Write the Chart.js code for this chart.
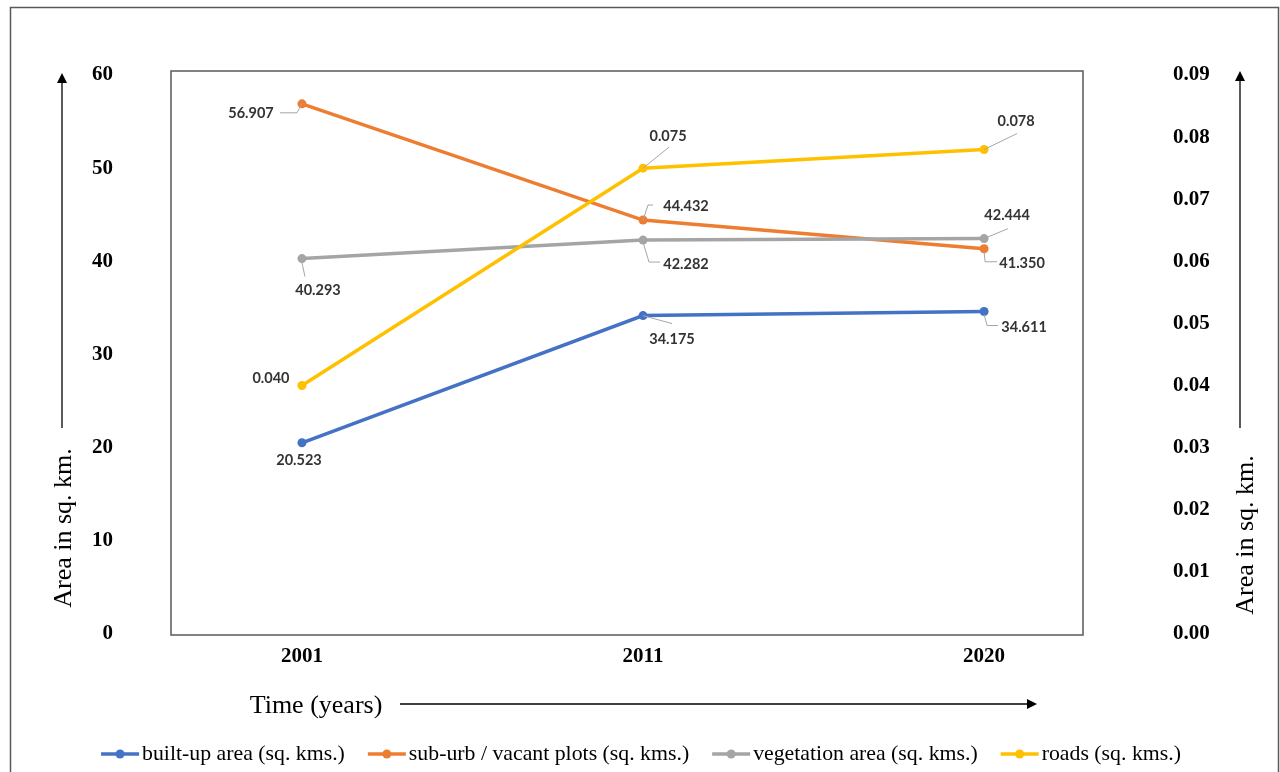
<!DOCTYPE html>
<html>
<head>
<meta charset="utf-8">
<script src="https://cdn.jsdelivr.net/npm/chart.js@4.4.1/dist/chart.umd.min.js"></script>
<style>
  body { margin: 0; background: #fff; }
  #wrap { width: 1280px; height: 772px; }
</style>
</head>
<body>
<div id="wrap"><canvas id="graf" width="1280" height="772"></canvas></div>
<script>
// data
const years = ['2001', '2011', '2020'];
const builtUp = [20.523, 34.175, 34.611];
const subUrb = [56.907, 44.432, 41.350];
const vegetation = [40.293, 42.282, 42.444];
const roads = [0.040, 0.075, 0.078];
const leftTicks = [0, 10, 20, 30, 40, 50, 60];
const rightTicks = [0.00, 0.01, 0.02, 0.03, 0.04, 0.05, 0.06, 0.07, 0.08, 0.09];
const seriesNames = [
  'built-up area (sq. kms.)',
  'sub-urb / vacant plots (sq. kms.)',
  'vegetation area (sq. kms.)',
  'roads (sq. kms.)'
];
const colors = ['#4472C4', '#ED7D31', '#A5A5A5', '#FFC000'];

const SERIF = '"Liberation Serif", "Times New Roman", serif';

// where each data label sits relative to its point: [dx, dy, leader line]
const labelPlacement = [
  [[-3, 18, null], [29, 24, [[0, 0], [29, 8]]], [40, 16, [[0, 3], [3, 14], [14, 14]]]],
  [[-51, 10, [[0, 0], [-5, 9], [-22, 9]]], [43, -14, [[0, 0], [5, -15], [10, -15]]], [38, 15, [[0, 3], [1, 13], [13, 13]]]],
  [[16, 32, [[0, 4], [3, 18]]], [43, 24, [[0, 2], [6, 22], [17, 22]]], [23, -23, [[0, 0], [24, -10]]]],
  [[-31, -7, null], [25, -32, [[0, 0], [26, -21]]], [32, -28, [[0, 0], [33, -16]]]]
];

function punkter(values) {
  return values.map((v, i) => ({ x: i, y: v }));
}

const dataLabels = {
  id: 'dataLabels',
  afterDatasetsDraw(chart) {
    const ctx = chart.ctx;
    ctx.save();
    chart.data.datasets.forEach((ds, di) => {
      const meta = chart.getDatasetMeta(di);
      meta.data.forEach((pt, i) => {
        const [dx, dy, leader] = labelPlacement[di][i];
        if (leader) {
          ctx.strokeStyle = '#A6A6A6';
          ctx.lineWidth = 1;
          ctx.beginPath();
          leader.forEach(([lx, ly], k) => {
            if (k === 0) ctx.moveTo(pt.x + lx, pt.y + ly);
            else ctx.lineTo(pt.x + lx, pt.y + ly);
          });
          ctx.stroke();
        }
        ctx.fillStyle = '#333333';
        ctx.font = 'bold 14.5px Lato, "Open Sans", sans-serif';
        ctx.textAlign = 'center';
        ctx.textBaseline = 'middle';
        ctx.fillText(ds.data[i].y.toFixed(3), pt.x + dx, pt.y + dy);
      });
    });
    ctx.restore();
  }
};

function pil(ctx, x1, y1, x2, y2) {
  // line with a filled head at (x2, y2)
  const a = Math.atan2(y2 - y1, x2 - x1);
  const len = 10, w = 5;
  ctx.beginPath();
  ctx.moveTo(x1, y1);
  ctx.lineTo(x2 - Math.cos(a) * len, y2 - Math.sin(a) * len);
  ctx.stroke();
  ctx.beginPath();
  ctx.moveTo(x2, y2);
  ctx.lineTo(x2 - Math.cos(a) * len - Math.sin(a) * w, y2 - Math.sin(a) * len + Math.cos(a) * w);
  ctx.lineTo(x2 - Math.cos(a) * len + Math.sin(a) * w, y2 - Math.sin(a) * len - Math.cos(a) * w);
  ctx.closePath();
  ctx.fill();
}

const ramar = {
  id: 'ramar',
  afterDraw(chart) {
    const ctx = chart.ctx;
    const ca = chart.chartArea;
    ctx.save();
    // outer frame
    ctx.strokeStyle = '#595959';
    ctx.lineWidth = 1.5;
    ctx.strokeRect(10.5, 7.5, 1268, 800);
    // plot frame
    ctx.strokeRect(ca.left, ca.top - 4, ca.right - ca.left, ca.bottom - ca.top + 5);

    // axis titles
    ctx.fillStyle = '#000';
    ctx.font = '26px ' + SERIF;
    ctx.textAlign = 'center';
    ctx.textBaseline = 'middle';
    ctx.save();
    ctx.translate(64, 528);
    ctx.rotate(-Math.PI / 2);
    ctx.fillText('Area in sq. km.', 0, 0);
    ctx.restore();
    ctx.save();
    ctx.translate(1246, 535);
    ctx.rotate(-Math.PI / 2);
    ctx.fillText('Area in sq. km.', 0, 0);
    ctx.restore();
    ctx.fillText('Time (years)', 316, 706);

    // arrows
    ctx.strokeStyle = '#000';
    ctx.lineWidth = 1.3;
    pil(ctx, 62, 428, 62, 73);
    pil(ctx, 1240, 428, 1240, 71);
    pil(ctx, 400, 704, 1037, 704);

    // legend
    ctx.font = '21.8px ' + SERIF;
    ctx.textAlign = 'left';
    const mark = 38, gap = 3, space = 23;
    const widths = seriesNames.map(n => ctx.measureText(n).width);
    const total = widths.reduce((s, w) => s + mark + gap + w, 0) + space * (seriesNames.length - 1);
    let x = 641 - total / 2;
    const ly = 754;
    seriesNames.forEach((n, i) => {
      ctx.strokeStyle = colors[i];
      ctx.fillStyle = colors[i];
      ctx.lineWidth = 3.5;
      ctx.beginPath();
      ctx.moveTo(x, ly);
      ctx.lineTo(x + mark, ly);
      ctx.stroke();
      ctx.beginPath();
      ctx.arc(x + mark / 2, ly, 4.5, 0, Math.PI * 2);
      ctx.fill();
      ctx.fillStyle = '#000';
      ctx.fillText(n, x + mark + gap, ly);
      x += mark + gap + widths[i] + space;
    });
    ctx.restore();
  }
};

const serier = [builtUp, subUrb, vegetation, roads];
const datasets = serier.map((s, i) => ({
  label: seriesNames[i],
  data: punkter(s),
  borderColor: colors[i],
  backgroundColor: colors[i],
  borderWidth: 3.5,
  pointRadius: 4.5,
  pointBorderWidth: 0,
  pointHoverRadius: 4.5,
  yAxisID: i === 3 ? 'y1' : 'y',
  order: 4 - i
}));

const tickFont = { family: SERIF, size: 21, weight: 'bold' };

// fixed axis width; drop the vertical padding that the big tick padding adds
function fastBredd(w) {
  return axis => {
    axis.width = w;
    axis.paddingTop = 12;
    axis.paddingBottom = 12;
  };
}

new Chart(document.getElementById('graf').getContext('2d'), {
  type: 'line',
  data: { datasets: datasets },
  plugins: [dataLabels, ramar],
  options: {
    responsive: false,
    animation: false,
    layout: { padding: { top: 75, left: 0, right: 0, bottom: 0 } },
    plugins: {
      legend: { display: false },
      tooltip: { enabled: false }
    },
    scales: {
      x: {
        type: 'linear',
        min: -0.384,
        max: 2.29,
        grid: { display: false, drawTicks: false },
        border: { display: false },
        afterBuildTicks: axis => { axis.ticks = years.map((y, i) => ({ value: i })); },
        afterFit: axis => { axis.height = 138; },
        ticks: {
          padding: 10,
          color: '#000',
          font: tickFont,
          callback: v => years[v]
        }
      },
      y: {
        position: 'left',
        min: 0,
        max: 60,
        grid: { display: false, drawTicks: false },
        border: { display: false },
        afterBuildTicks: axis => { axis.ticks = leftTicks.map(v => ({ value: v })); },
        afterFit: fastBredd(171),
        ticks: { padding: 58, color: '#000', font: tickFont }
      },
      y1: {
        position: 'right',
        min: 0,
        max: 0.09,
        grid: { display: false, drawTicks: false },
        border: { display: false },
        afterBuildTicks: axis => { axis.ticks = rightTicks.map(v => ({ value: v })); },
        afterFit: fastBredd(197),
        ticks: { padding: 90, color: '#000', font: tickFont, callback: v => v.toFixed(2) }
      }
    }
  }
});
</script>
</body>
</html>
